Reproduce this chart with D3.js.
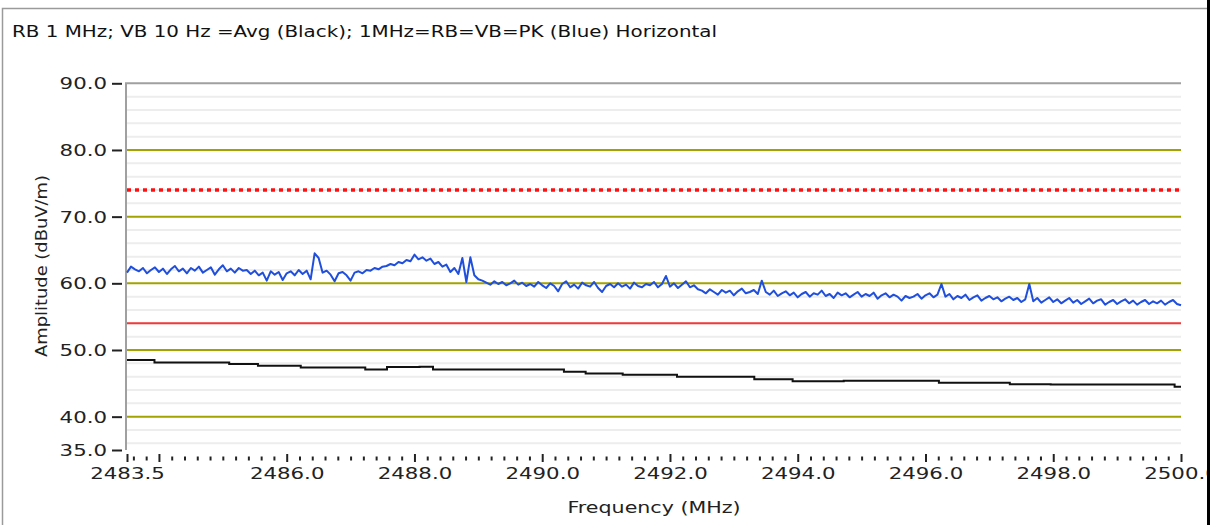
<!DOCTYPE html>
<html>
<head>
<meta charset="utf-8">
<script src="https://cdn.jsdelivr.net/npm/d3@7"></script>
<style>
  body { margin: 0; background: #fff; }
  svg { display: block; font-family: "DejaVu Sans", sans-serif; }
</style>
</head>
<body>
<div class="chart"></div>
<script>
// ---- data ----
var titleText = "RB 1 MHz; VB 10 Hz =Avg (Black); 1MHz=RB=VB=PK (Blue) Horizontal";
var xLabel = "Frequency (MHz)";
var yLabel = "Amplitude (dBuV/m)";

var yTicks = [90, 80, 70, 60, 50, 40, 35];
var xMajorTicks = [2483.5, 2484, 2486, 2488, 2490, 2492, 2494, 2496, 2498, 2500];
var xLabelTicks = [2483.5, 2486, 2488, 2490, 2492, 2494, 2496, 2498, 2500];
var olivLevels = [40, 50, 60, 70, 80];
var limitPeak = 74;   // red dotted
var limitAvg = 54;    // red solid

// average trace (black), steps
var blackFreq = [2483.5, 2483.93, 2485.10, 2485.55, 2486.22, 2487.23, 2487.57, 2488.08, 2488.29, 2490.34,
                 2490.68, 2491.26, 2492.11, 2493.32, 2493.92, 2494.72, 2496.21, 2497.32, 2497.96, 2499.9, 2500];
var blackLevel = [48.49, 48.14, 47.89, 47.64, 47.39, 47.09, 47.44, 47.49, 47.09, 46.73,
                  46.48, 46.28, 45.98, 45.63, 45.33, 45.38, 45.08, 44.88, 44.83, 44.47, 44.47];

// peak trace (blue), evenly spaced from 2483.5 to 2500 MHz
var blueStart = 2483.5, blueEnd = 2500;
var blueLevel = [
  61.6, 62.5, 62.1, 61.8, 62.3, 61.5, 62.0, 62.4, 61.7, 62.2, 61.4, 62.1, 62.6, 61.8, 62.2, 61.5,
  62.3, 61.9, 62.5, 61.6, 62.0, 62.4, 61.3, 62.1, 62.7, 61.8, 62.2, 61.6, 62.3, 61.9, 62.0,
  61.4, 61.9, 61.2, 61.6, 60.4, 61.8, 61.3, 61.7, 60.5, 61.5,
  61.8, 61.2, 62.0, 61.4, 61.9, 60.6, 64.5, 63.8,
  61.6, 61.9, 61.3, 60.3, 61.5, 61.7, 61.2, 60.4, 61.6,
  61.8, 61.5, 62.0, 61.9, 62.3, 62.1, 62.5,
  62.6, 62.9, 62.7, 63.2, 63.0, 63.5, 63.3, 64.3, 63.6,
  63.9, 63.4, 63.7, 62.9, 63.2, 62.5, 62.8,
  61.7, 62.3, 61.4, 63.8, 60.2, 63.9,
  61.2, 60.6, 60.4,
  60.1, 59.8, 60.3, 59.9, 60.2, 59.7, 60.0, 60.4, 59.8, 60.1, 59.6,
  59.9, 59.5, 60.2, 59.7, 59.3, 60.0, 59.6, 58.8, 59.9, 60.3, 59.4, 59.8, 59.2, 60.1, 59.7,
  59.5, 60.2, 59.3, 58.7, 59.6, 59.9, 59.4, 60.0, 59.5, 59.8, 59.2, 60.1, 59.6, 59.4, 59.9,
  59.7, 60.2, 59.4, 59.9, 61.1, 59.5, 60.0, 59.3, 59.8, 60.3, 59.4, 59.7, 59.1,
  58.9, 58.5, 59.1, 58.7, 58.3, 59.0, 58.6, 58.9, 58.2, 58.8, 59.2, 58.5, 58.7, 59.0, 58.4,
  60.4,
  58.7, 58.3, 58.9, 58.1, 58.5, 58.8, 58.2, 58.6, 57.9, 58.4, 58.7, 58.0, 58.5, 58.3, 58.9,
  58.1, 58.4, 57.8, 58.6, 58.2, 58.5, 57.9, 58.3, 58.7, 58.0, 58.4, 58.1, 58.6, 57.7, 58.2,
  58.5, 57.9, 58.3, 58.0, 57.4, 58.1, 57.8,
  58.0, 58.4, 57.7, 58.2, 58.5, 57.9, 58.3, 59.9, 58.0, 58.4, 57.6, 58.1, 57.8, 58.3, 57.5,
  57.9, 58.2, 57.4, 57.8, 58.1, 57.6, 57.9, 57.3, 57.7, 58.0, 57.5, 57.8, 57.2, 57.6,
  59.9,
  57.3, 57.8, 57.1, 57.5, 57.9, 57.2, 57.6, 57.0, 57.4, 57.8, 57.1, 57.5, 56.9, 57.3, 57.7,
  57.0, 57.4, 57.6, 56.8, 57.2, 57.5, 56.9, 57.3, 57.6, 57.0, 57.4, 56.8, 57.2, 57.5, 56.9,
  57.3, 57.0, 57.4, 56.8, 57.2, 57.5, 56.9, 56.7
];

// ---- layout ----
var W = 1214, H = 525;
var plotLeft = 127, plotRight = 1181, plotTop = 83.3, plotBottom = 450;
var txtScale = 1.42; // glyphs in the picture are stretched sideways

var svg = d3.select(".chart").append("svg")
    .attr("width", W)
    .attr("height", H);

var xScale = d3.scaleLinear().domain([2483.5, 2500]).range([plotLeft, plotRight]);
var yScale = d3.scaleLinear().domain([35, 90]).range([plotBottom, plotTop]);

// outer frame
svg.append("rect")
    .attr("x", 2.5).attr("y", 8.5)
    .attr("width", 1220).attr("height", 530)
    .attr("fill", "none")
    .attr("stroke", "#9a9a9a")
    .attr("stroke-width", 1.5);

// title
svg.append("text")
    .attr("x", 12)
    .attr("y", 37)
    .attr("font-size", 15)
    .attr("fill", "#111")
    .attr("textLength", 705)
    .attr("lengthAdjust", "spacingAndGlyphs")
    .text(titleText);

// minor grid every 2 units
var minorGrid = d3.range(36, 90, 2).filter(function(v){ return v % 10 != 0; });
svg.selectAll(".minorgrid")
    .data(minorGrid)
    .enter()
    .append("line")
    .attr("class", "minorgrid")
    .attr("x1", plotLeft).attr("x2", plotRight)
    .attr("y1", function(d){ return yScale(d); })
    .attr("y2", function(d){ return yScale(d); })
    .attr("stroke", "#ededed")
    .attr("stroke-width", 2);

// olive major grid
svg.selectAll(".olive")
    .data(olivLevels)
    .enter()
    .append("line")
    .attr("class", "olive")
    .attr("x1", plotLeft).attr("x2", plotRight)
    .attr("y1", function(d){ return yScale(d); })
    .attr("y2", function(d){ return yScale(d); })
    .attr("stroke", "#a3a300")
    .attr("stroke-width", 2);

// limit lines
svg.append("line")
    .attr("x1", plotLeft).attr("x2", plotRight)
    .attr("y1", yScale(limitPeak)).attr("y2", yScale(limitPeak))
    .attr("stroke", "#ff1010")
    .attr("stroke-width", 3.5)
    .attr("stroke-dasharray", "4,4");
svg.append("line")
    .attr("x1", plotLeft).attr("x2", plotRight)
    .attr("y1", yScale(limitAvg)).attr("y2", yScale(limitAvg))
    .attr("stroke", "#f23a3a")
    .attr("stroke-width", 2);

// plot frame (top + left)
svg.append("path")
    .attr("d", "M" + (plotLeft - 1) + "," + plotBottom + "V" + plotTop + "H" + plotRight)
    .attr("fill", "none")
    .attr("stroke", "#a0a0a0")
    .attr("stroke-width", 2);

// traces
var blueStep = (blueEnd - blueStart) / (blueLevel.length - 1);
var blueLine = d3.line()
    .x(function(d, i){ return xScale(blueStart + i * blueStep); })
    .y(function(d){ return yScale(d); });
svg.append("path")
    .datum(blueLevel)
    .attr("d", blueLine)
    .attr("fill", "none")
    .attr("stroke", "#1f4fdc")
    .attr("stroke-width", 2)
    .attr("stroke-linejoin", "round");

var blackLine = d3.line()
    .x(function(d, i){ return xScale(blackFreq[i]); })
    .y(function(d){ return yScale(d); })
    .curve(d3.curveStepAfter);
svg.append("path")
    .datum(blackLevel)
    .attr("d", blackLine)
    .attr("fill", "none")
    .attr("stroke", "#111")
    .attr("stroke-width", 2);

// y axis (dashes sit a bit left of the frame)
var yAxis = d3.axisLeft(yScale)
    .tickValues(yTicks)
    .tickSize(10)
    .tickPadding(5)
    .tickFormat(d3.format(".1f"));
var gy = svg.append("g")
    .attr("transform", "translate(122,0)")
    .call(yAxis);
gy.select(".domain").remove();
gy.selectAll("line").attr("stroke", "#222").attr("stroke-width", 2);
gy.selectAll("text")
    .attr("font-size", 15)
    .attr("fill", "#222")
    .attr("font-family", "DejaVu Sans")
    .attr("x", 0)
    .attr("dy", "0.36em")
    .attr("transform", "translate(-15,0) scale(" + txtScale + ",1)");

// x axis minor ticks
var minorTicks = d3.range(2483.6, 2500, 0.2).filter(function(v){
    return Math.abs(v - Math.round(v / 2) * 2) > 0.05;
});
var gxMinor = svg.append("g")
    .attr("transform", "translate(0,456.5)")
    .call(d3.axisBottom(xScale).tickValues(minorTicks).tickSize(4).tickFormat(""));
gxMinor.select(".domain").remove();
gxMinor.selectAll("line").attr("stroke", "#222").attr("stroke-width", 2);

// x axis major ticks + labels
var gx = svg.append("g")
    .attr("transform", "translate(0,454)")
    .call(d3.axisBottom(xScale)
        .tickValues(xMajorTicks)
        .tickSize(8)
        .tickPadding(6)
        .tickFormat(function(d){ return xLabelTicks.indexOf(d) >= 0 ? d3.format(".1f")(d) : ""; }));
gx.select(".domain").remove();
gx.selectAll("line").attr("stroke", "#222").attr("stroke-width", 2);
gx.selectAll("text")
    .attr("font-size", 15)
    .attr("fill", "#222")
    .attr("font-family", "DejaVu Sans")
    .attr("transform", "scale(" + txtScale + ",1)");

// axis titles
svg.append("text")
    .attr("x", 654)
    .attr("y", 513)
    .attr("text-anchor", "middle")
    .attr("font-size", 15)
    .attr("fill", "#222")
    .attr("textLength", 173)
    .attr("lengthAdjust", "spacingAndGlyphs")
    .text(xLabel);
svg.append("text")
    .attr("transform", "translate(47,266) rotate(-90)")
    .attr("text-anchor", "middle")
    .attr("font-size", 15)
    .attr("fill", "#222")
    .attr("textLength", 182)
    .attr("lengthAdjust", "spacingAndGlyphs")
    .text(yLabel);

// right edge: cut-off with black border
svg.append("rect")
    .attr("x", 1207).attr("y", 0)
    .attr("width", 7).attr("height", H)
    .attr("fill", "#fff");
svg.append("line")
    .attr("x1", 1208.5).attr("x2", 1208.5)
    .attr("y1", 0).attr("y2", H)
    .attr("stroke", "#000")
    .attr("stroke-width", 3);
</script>
</body>
</html>
